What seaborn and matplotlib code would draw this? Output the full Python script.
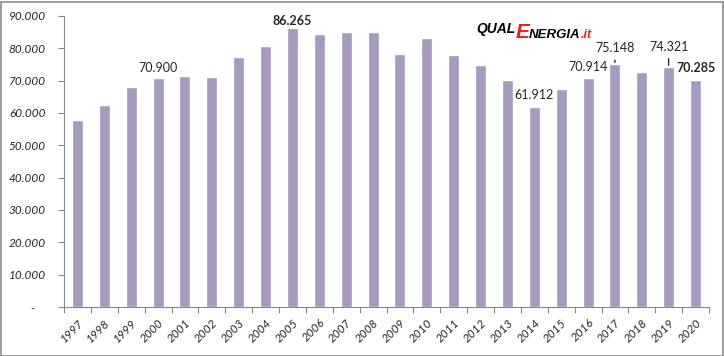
import matplotlib
matplotlib.use("Agg")
import matplotlib.pyplot as plt
import seaborn as sns
import pandas as pd
from matplotlib.patches import Rectangle
from matplotlib.ticker import FixedLocator

years = [str(y) for y in range(1997, 2021)]
values = [57800, 62500, 67900, 70900, 71400, 71100, 77300, 80700, 86265, 84400,
          85100, 85000, 78300, 83200, 77900, 74900, 70200, 61912, 67400, 70914,
          75148, 72700, 74321, 70285]

# year -> (label, bold, offset in points, leader line)
labels = {
    "2000": ("70.900", False, 7, False),
    "2005": ("86.265", True, 5, False),
    "2014": ("61.912", False, 8.6, False),
    "2016": ("70.914", False, 8, False),
    "2017": ("75.148", False, 11.5, True),
    "2019": ("74.321", False, 14.5, True),
    "2020": ("70.285", True, 8.6, False),
}

yticks = list(range(0, 90001, 10000))

sns.set_style("white")
plt.rcParams["font.family"] = ["Lato", "DejaVu Sans"]

W, H = 724, 356
fig = plt.figure(figsize=(W / 100, H / 100), dpi=100)
ax = fig.add_axes([64 / W, 49 / H, 645 / W, 291 / H])

df = pd.DataFrame({"year": years, "value": values})
sns.barplot(data=df, x="year", y="value", color="#A69ABE", width=0.41,
            saturation=1, ax=ax)

ax.set_xlim(-0.5, len(years) - 0.5)
ax.set_ylim(0, 90000)
ax.set_xlabel("")
ax.set_ylabel("")

ax.set_yticks(yticks)
ax.set_yticklabels([f"{v:,.0f}".replace(",", ".") if v else "-    " for v in yticks],
                   fontstyle="italic", fontsize=8.5)
ax.tick_params(axis="y", length=4, width=0.8, color="#868686", pad=9, left=True)

ax.set_xticks(range(len(years)))
ax.set_xticklabels(years, rotation=45, ha="right", rotation_mode="anchor",
                   fontstyle="italic", fontsize=8.5)
ax.tick_params(axis="x", which="major", length=0, pad=7)
ax.xaxis.set_minor_locator(FixedLocator([i - 0.5 for i in range(len(years) + 1)]))
ax.tick_params(axis="x", which="minor", length=4, width=0.8, color="#868686", bottom=True)

for side in ["top", "right"]:
    ax.spines[side].set_visible(False)
for side in ["left", "bottom"]:
    ax.spines[side].set_color("#868686")
    ax.spines[side].set_linewidth(0.8)

for i, y in enumerate(years):
    if y not in labels:
        continue
    txt, bold, off, leader = labels[y]
    kw = {}
    if leader:
        kw["arrowprops"] = dict(arrowstyle="-", color="black", lw=0.8, shrinkB=1)
    ax.annotate(txt, xy=(i, values[i]), xytext=(0, off), textcoords="offset points",
                ha="center", va="center", fontsize=9,
                fontweight="bold" if bold else "normal", **kw)

# logo, pieces placed one after another
renderer = fig.canvas.get_renderer()
x = 476
pieces = [("QUAL", "black", 10, 33), ("E", "#E3201B", 15, 38),
          ("NERGIA", "black", 9.5, 38), (".it", "#E3201B", 9, 38)]
for s, c, fs, base in pieces:
    t = fig.text(x / W, 1 - base / H, s, color=c, fontsize=fs, fontweight="bold",
                 fontstyle="italic", family="Liberation Sans", ha="left", va="baseline")
    x += t.get_window_extent(renderer).width

fig.patches.append(Rectangle((0.5 / W, 0.5 / H), (W - 2) / W, (H - 2) / H,
                             transform=fig.transFigure, fill=False,
                             edgecolor="#8C8C8C", linewidth=1.2))

fig.savefig("out.png", dpi=100)
